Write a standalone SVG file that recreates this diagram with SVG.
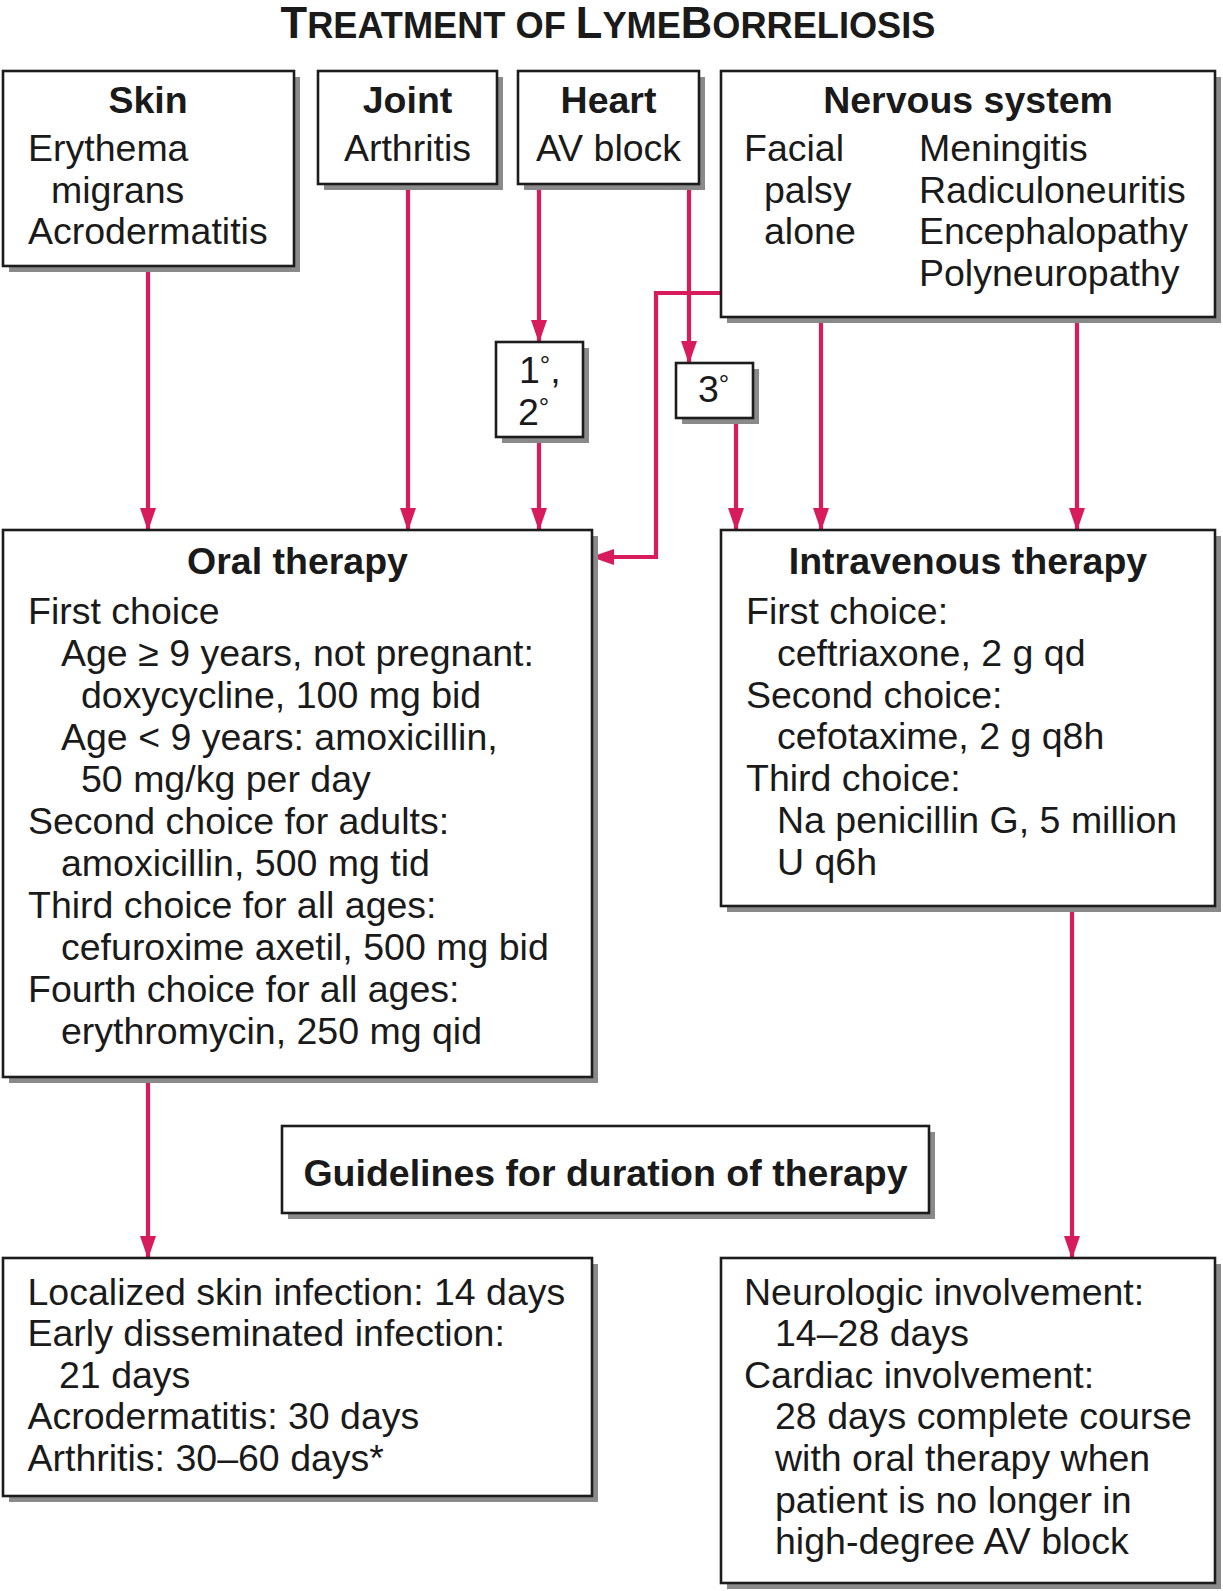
<svg xmlns="http://www.w3.org/2000/svg" width="1223" height="1591" viewBox="0 0 1223 1591">
<defs>
<style>
.box{fill:#fff;stroke:#1c1c1c;stroke-width:2.6}
.sh{fill:#8a8a8a}
text{font-family:"Liberation Sans",Arial,Helvetica,sans-serif;fill:#1a1a1a;font-size:37.5px}
.b{font-weight:bold}
.c{text-anchor:middle}
.deg{font-size:26px}
.con{fill:none;stroke:#d81b5c;stroke-width:4.2;marker-end:url(#ah)}
</style>
<marker id="ah" markerUnits="userSpaceOnUse" markerWidth="24" markerHeight="18" refX="22" refY="8" orient="auto" viewBox="0 0 24 18">
<path d="M0,0 L23,8 L0,16 z" fill="#d81b5c"/>
</marker>
</defs>
<rect width="1223" height="1591" fill="#fff"/>

<g id="title">
<text class="b c" x="608" y="38"><tspan font-size="43.5">T</tspan><tspan font-size="36.2">REATMENT OF </tspan><tspan font-size="43.5">L</tspan><tspan font-size="36.2">YME</tspan><tspan font-size="43.5">B</tspan><tspan font-size="36.2">ORRELIOSIS</tspan></text>
</g>

<g id="connectors">
<path class="con" d="M148,266 V530"/>
<path class="con" d="M408,184 V530"/>
<path class="con" d="M539,184 V342"/>
<path class="con" d="M539,437 V530"/>
<path class="con" d="M689,184 V363"/>
<path class="con" d="M736,418 V530"/>
<path class="con" d="M721,293 H656 V557 H592"/>
<path class="con" d="M821,317 V530"/>
<path class="con" d="M1077,317 V530"/>
<path class="con" d="M148,1077 V1258"/>
<path class="con" d="M1072,906 V1258"/>
</g>

<g id="skin">
<rect class="sh" x="9" y="77" width="291" height="195"/>
<rect class="box" x="3" y="71" width="291" height="195"/>
<text class="b c" x="148" y="113">Skin</text>
<text x="28" y="161">Erythema</text>
<text x="51" y="202.6">migrans</text>
<text x="28" y="244.2">Acrodermatitis</text>
</g>

<g id="joint">
<rect class="sh" x="324" y="77" width="179" height="113"/>
<rect class="box" x="318" y="71" width="179" height="113"/>
<text class="b c" x="407.5" y="113">Joint</text>
<text class="c" x="407.5" y="161">Arthritis</text>
</g>

<g id="heart">
<rect class="sh" x="524" y="77" width="181" height="113"/>
<rect class="box" x="518" y="71" width="181" height="113"/>
<text class="b c" x="608.5" y="113">Heart</text>
<text class="c" x="608.5" y="161">AV block</text>
</g>

<g id="nervous">
<rect class="sh" x="727" y="77" width="494" height="246"/>
<rect class="box" x="721" y="71" width="494" height="246"/>
<text class="b c" x="968" y="113">Nervous system</text>
<text x="744" y="161">Facial</text>
<text x="764" y="202.6">palsy</text>
<text x="764" y="244.2">alone</text>
<text x="919" y="161">Meningitis</text>
<text x="919" y="202.6">Radiculoneuritis</text>
<text x="919" y="244.2">Encephalopathy</text>
<text x="919" y="285.8">Polyneuropathy</text>
</g>

<g id="deg12">
<rect class="sh" x="502" y="348" width="87" height="95"/>
<rect class="box" x="496" y="342" width="87" height="95"/>
<text x="519" y="383">1<tspan class="deg" dy="-9">°</tspan><tspan dy="9">,</tspan></text>
<text x="518" y="425">2<tspan class="deg" dy="-9">°</tspan></text>
</g>

<g id="deg3">
<rect class="sh" x="682" y="369" width="77" height="55"/>
<rect class="box" x="676" y="363" width="77" height="55"/>
<text x="698" y="402">3<tspan class="deg" dy="-9">°</tspan></text>
</g>

<g id="oral">
<rect class="sh" x="9" y="536" width="589" height="547"/>
<rect class="box" x="3" y="530" width="589" height="547"/>
<text class="b c" x="297.5" y="574">Oral therapy</text>
<text x="28" y="624">First choice</text>
<text x="61" y="666">Age ≥ 9 years, not pregnant:</text>
<text x="81" y="708">doxycycline, 100 mg bid</text>
<text x="61" y="750">Age &lt; 9 years: amoxicillin,</text>
<text x="81" y="792">50 mg/kg per day</text>
<text x="28" y="834">Second choice for adults:</text>
<text x="61" y="876">amoxicillin, 500 mg tid</text>
<text x="28" y="918">Third choice for all ages:</text>
<text x="61" y="960">cefuroxime axetil, 500 mg bid</text>
<text x="28" y="1002">Fourth choice for all ages:</text>
<text x="61" y="1044">erythromycin, 250 mg qid</text>
</g>

<g id="iv">
<rect class="sh" x="727" y="536" width="494" height="376"/>
<rect class="box" x="721" y="530" width="494" height="376"/>
<text class="b c" x="968" y="574">Intravenous therapy</text>
<text x="746" y="624">First choice:</text>
<text x="777" y="665.8">ceftriaxone, 2 g qd</text>
<text x="746" y="707.6">Second choice:</text>
<text x="777" y="749.4">cefotaxime, 2 g q8h</text>
<text x="746" y="791.2">Third choice:</text>
<text x="777" y="833">Na penicillin G, 5 million</text>
<text x="777" y="874.8">U q6h</text>
</g>

<g id="guidelines">
<rect class="sh" x="288" y="1132" width="647" height="87"/>
<rect class="box" x="282" y="1126" width="647" height="87"/>
<text class="b c" x="605.5" y="1186">Guidelines for duration of therapy</text>
</g>

<g id="oral-duration">
<rect class="sh" x="9" y="1264" width="589" height="238"/>
<rect class="box" x="3" y="1258" width="589" height="238"/>
<text x="27.5" y="1304.6">Localized skin infection: 14 days</text>
<text x="27.5" y="1346.2">Early disseminated infection:</text>
<text x="59" y="1387.9">21 days</text>
<text x="27.5" y="1429.4">Acrodermatitis: 30 days</text>
<text x="27.5" y="1471">Arthritis: 30–60 days*</text>
</g>

<g id="iv-duration">
<rect class="sh" x="727" y="1264" width="494" height="325"/>
<rect class="box" x="721" y="1258" width="494" height="325"/>
<text x="744" y="1304.6">Neurologic involvement:</text>
<text x="775" y="1346.2">14–28 days</text>
<text x="744" y="1387.9">Cardiac involvement:</text>
<text x="775" y="1429.4">28 days complete course</text>
<text x="775" y="1471">with oral therapy when</text>
<text x="775" y="1512.6">patient is no longer in</text>
<text x="775" y="1554.2">high-degree AV block</text>
</g>
</svg>
